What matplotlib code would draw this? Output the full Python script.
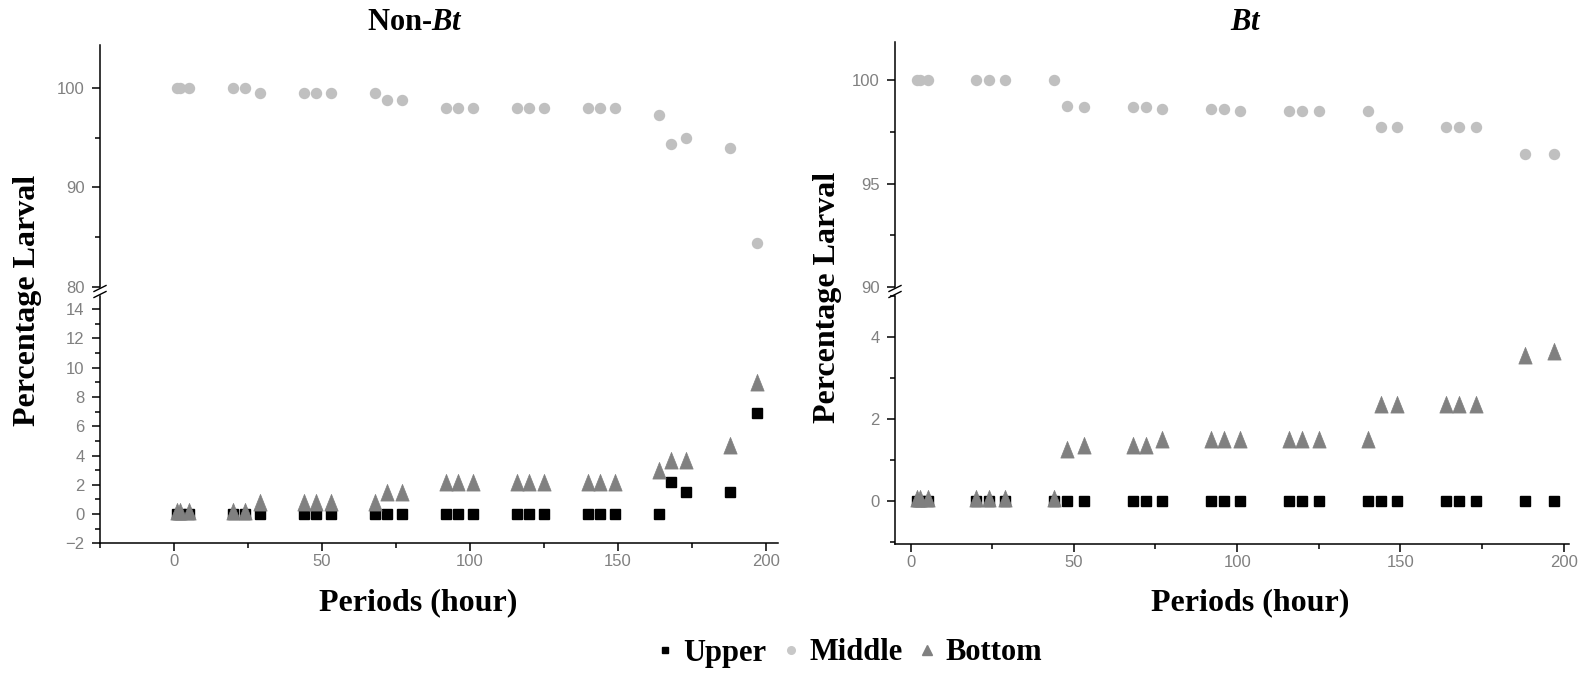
import matplotlib
matplotlib.use('Agg')
import matplotlib.pyplot as plt
from matplotlib.path import Path
from matplotlib.lines import Line2D
from matplotlib.ticker import MultipleLocator

# ---------------- data ----------------
hours_nonbt = [1, 2, 5, 20, 24, 29, 44, 48, 53, 68, 72, 77, 92, 96, 101,
               116, 120, 125, 140, 144, 149, 164, 168, 173, 188, 197]
upper_nonbt = [0, 0, 0, 0, 0, 0, 0, 0, 0, 0, 0, 0, 0, 0, 0,
               0, 0, 0, 0, 0, 0, 0, 2.2, 1.5, 1.5, 6.9]
middle_nonbt = [100, 100, 100, 100, 100, 99.5, 99.5, 99.5, 99.5, 99.5, 98.8, 98.8,
                98, 98, 98, 98, 98, 98, 98, 98, 98, 97.3, 94.4, 95.0, 94.0, 84.4]
bottom_nonbt = [0, 0, 0, 0, 0, 0.6, 0.6, 0.6, 0.6, 0.6, 1.3, 1.3, 2.0, 2.0, 2.0,
                2.0, 2.0, 2.0, 2.0, 2.0, 2.0, 2.8, 3.5, 3.5, 4.5, 8.8]

hours_bt = [2, 3, 5.5, 20, 24, 29, 44, 48, 53, 68, 72, 77, 92, 96, 101,
            116, 120, 125, 140, 144, 149, 164, 168, 173, 188, 197]
upper_bt = [0] * 26
middle_bt = [100, 100, 100, 100, 100, 100, 100, 98.75, 98.7, 98.7, 98.7, 98.6,
             98.6, 98.6, 98.5, 98.5, 98.5, 98.5, 98.5, 97.75, 97.75,
             97.75, 97.75, 97.75, 96.45, 96.45]
bottom_bt = [0, 0, 0, 0, 0, 0, 0, 1.2, 1.3, 1.3, 1.3, 1.45, 1.45, 1.45, 1.45,
             1.45, 1.45, 1.45, 1.45, 2.3, 2.3, 2.3, 2.3, 2.3, 3.5, 3.6]

series_names = ['Upper', 'Middle', 'Bottom']
x_ticks = [0, 50, 100, 150, 200]

# ---------------- style ----------------
plt.rcParams['mathtext.fontset'] = 'custom'
plt.rcParams['mathtext.rm'] = 'Liberation Serif:bold'
plt.rcParams['mathtext.it'] = 'Liberation Serif:italic:bold'
plt.rcParams['mathtext.bf'] = 'Liberation Serif:bold'

C_UP, C_MID, C_BOT = '#000000', '#c0c0c0', '#808080'
TICK_C = '#808080'
serif = dict(family='Liberation Serif', weight='bold')

# centroid-centred triangle (Origin style)
tri = Path([(0, 1.333), (-0.8, -0.667), (0.8, -0.667), (0, 1.333)],
           [Path.MOVETO, Path.LINETO, Path.LINETO, Path.CLOSEPOLY])

W, H = 1579, 678
fig = plt.figure(figsize=(W / 100, H / 100), dpi=100)


def rect(x0, x1, ytop, ybot):
    return [x0 / W, 1 - ybot / H, (x1 - x0) / W, (ybot - ytop) / H]


def style_axis(ax, lower):
    for s in ['top', 'right']:
        ax.spines[s].set_visible(False)
    ax.spines['left'].set_linewidth(1.1)
    ax.spines['bottom'].set_linewidth(1.1)
    ax.tick_params(axis='y', which='major', direction='out', length=6, width=1.1,
                   pad=5, labelsize=12, labelcolor=TICK_C, color='black')
    ax.tick_params(axis='y', which='minor', direction='out', length=3.5, width=1.1)
    for lab in ax.get_yticklabels():
        lab.set_family('Liberation Sans')
    if lower:
        ax.set_xticks(x_ticks)
        ax.set_xticklabels([str(t) for t in x_ticks], family='Liberation Sans')
        ax.xaxis.set_minor_locator(MultipleLocator(25))
        ax.tick_params(axis='x', which='major', direction='out', length=6, width=1.1,
                       pad=2, labelsize=12, labelcolor=TICK_C)
        ax.tick_params(axis='x', which='minor', direction='out', length=3.5, width=1.1)
    else:
        ax.spines['bottom'].set_visible(False)
        ax.set_xticks([])


def draw_break(xpix, y1, y2):
    for yc in (y1, y2):
        fig.add_artist(Line2D([(xpix - 6) / W, (xpix + 6) / W],
                              [1 - (yc + 3) / H, 1 - (yc - 3) / H],
                              color='black', lw=1.0, transform=fig.transFigure))


def panel(x0, x1, up_top, up_bot, lo_top, lo_bot, xlim, ylim_up, ylim_lo,
          up_ticks, up_minor, lo_ticks, lo_minor, hours, up, mid, bot):
    axu = fig.add_axes(rect(x0, x1, up_top, up_bot))
    axl = fig.add_axes(rect(x0, x1, lo_top, lo_bot))
    for ax in (axu, axl):
        ax.plot(hours, up, ls='none', marker='s', ms=6.5, color=C_UP, mec=C_UP)
        ax.plot(hours, mid, ls='none', marker='o', ms=7.2, color=C_MID, mec=C_MID)
        ax.plot(hours, bot, ls='none', marker=tri, ms=16, color=C_BOT, mec=C_BOT, mew=0.5)
        ax.set_xlim(*xlim)
    axu.set_ylim(*ylim_up)
    axl.set_ylim(*ylim_lo)
    axu.set_yticks(up_ticks)
    axu.yaxis.set_minor_locator(MultipleLocator(up_minor))
    axl.set_yticks(lo_ticks)
    axl.yaxis.set_minor_locator(MultipleLocator(lo_minor))
    style_axis(axu, False)
    style_axis(axl, True)
    for ax in (axu, axl):
        ax.patch.set_alpha(0)
    draw_break(x0, (up_bot + lo_top) / 2 - 3, (up_bot + lo_top) / 2 + 3)
    return axu, axl


panel(100, 778, 45, 287, 296, 543.3, (-25, 204.2), (80, 104.3), (-2, 14.9),
      [80, 90, 100], 5, list(range(-2, 15, 2)), 1,
      hours_nonbt, upper_nonbt, middle_nonbt, bottom_nonbt)
panel(895, 1569, 42, 287, 296, 544, (-4.75, 201.6), (90, 101.84), (-1.05, 5.01),
      [90, 95, 100], 2.5, [0, 2, 4], 1,
      hours_bt, upper_bt, middle_bt, bottom_bt)

# titles and labels
fig.text(415 / W, 1 - 22 / H, r'Non-$\mathit{Bt}$', ha='center', va='center', fontsize=22, **serif)
fig.text(1246 / W, 1 - 22 / H, r'$\mathit{Bt}$', ha='center', va='center', fontsize=22, **serif)
for xc in (418, 1250):
    fig.text(xc / W, 1 - 603 / H, 'Periods (hour)', ha='center', va='center', fontsize=23, **serif)
for xc, yc in ((28, 300), (828, 297)):
    fig.text(xc / W, 1 - yc / H, 'Percentage Larval', ha='center', va='center',
             rotation=90, fontsize=23, **serif)

# legend
handles = [
    Line2D([], [], ls='none', marker='s', ms=5, color=C_UP),
    Line2D([], [], ls='none', marker='o', ms=5.5, color='#c8c8c8'),
    Line2D([], [], ls='none', marker='^', ms=7, color=C_BOT),
]
fig.legend(handles, series_names, loc='center', bbox_to_anchor=(849 / W, 1 - 653 / H),
           ncol=3, frameon=False, handlelength=0.6, handletextpad=0.3, columnspacing=0.5,
           prop=dict(family='Liberation Serif', weight='bold', size=22))

fig.savefig('out.png', dpi=100)
